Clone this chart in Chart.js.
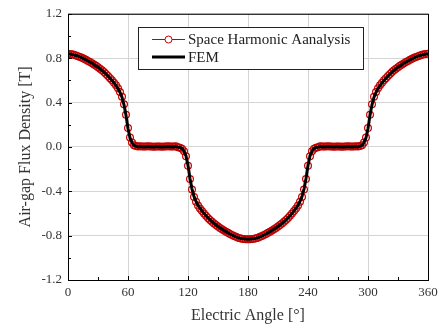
<!DOCTYPE html>
<html>
<head>
<meta charset="utf-8">
<script src="https://cdn.jsdelivr.net/npm/chart.js@4.4.1/dist/chart.umd.min.js"></script>
<style>
  html, body { margin: 0; padding: 0; background: #fff; }
  #wrap { position: relative; width: 443px; height: 325px; }
</style>
</head>
<body>
<div id="wrap"><canvas id="fluxChart"></canvas></div>
<script>
// Electric angle in degrees (sample positions)
const angles = [
  0,2,4,6,8,10,12,14,16,18,20,22,24,26,28,30,32,34,36,38,40,42,44,46,48,50,52,54,56,58,60,62,64,66,68,70,
  72,74,76,78,80,82,84,86,88,90,92,94,96,98,100,102,104,106,108,
  110,112,114,116,118,120,122,124,126,128,130,132,134,136,138,140,142,144,146,148,150,152,154,156,158,160,162,164,166,168,170,172,174,176,178,180,
  182,184,186,188,190,192,194,196,198,200,202,204,206,208,210,212,214,216,218,220,222,224,226,228,230,232,234,236,238,240,242,244,246,248,250,
  252,254,256,258,260,262,264,266,268,270,272,274,276,278,280,282,284,286,288,
  290,292,294,296,298,300,302,304,306,308,310,312,314,316,318,320,322,324,326,328,330,332,334,336,338,340,342,344,346,348,350,352,354,356,358,360
];

// Space harmonic analysis (markers)
const shaFlux = [
  0.840,0.838,0.835,0.830,0.825,0.818,0.811,0.803,0.795,0.785,0.775,0.765,0.754,0.743,0.731,0.718,0.705,0.690,0.675,0.658,0.640,0.620,0.600,0.578,0.555,0.528,0.495,0.452,0.385,0.290,0.170,0.085,0.040,0.016,0.007,0.004,
  0.005,0.004,0.003,0.004,0.005,0.004,0.003,0.002,0.003,0.004,0.003,0.002,0.003,0.004,0.005,0.004,0.003,0.004,0.005,
  -0.004,-0.007,-0.016,-0.040,-0.085,-0.170,-0.290,-0.385,-0.452,-0.495,-0.528,-0.555,-0.578,-0.600,-0.620,-0.640,-0.658,-0.675,-0.690,-0.705,-0.718,-0.731,-0.743,-0.754,-0.765,-0.775,-0.785,-0.795,-0.803,-0.811,-0.818,-0.823,-0.827,-0.830,-0.832,-0.833,
  -0.832,-0.830,-0.827,-0.823,-0.818,-0.811,-0.803,-0.795,-0.785,-0.775,-0.765,-0.754,-0.743,-0.731,-0.718,-0.705,-0.690,-0.675,-0.658,-0.640,-0.620,-0.600,-0.578,-0.555,-0.528,-0.495,-0.452,-0.385,-0.290,-0.170,-0.085,-0.040,-0.016,-0.007,-0.004,
  0.005,0.004,0.003,0.004,0.005,0.004,0.003,0.002,0.003,0.004,0.003,0.002,0.003,0.004,0.005,0.004,0.003,0.004,0.005,
  0.004,0.007,0.016,0.040,0.085,0.170,0.290,0.385,0.452,0.495,0.528,0.555,0.578,0.600,0.620,0.640,0.658,0.675,0.690,0.705,0.718,0.731,0.743,0.754,0.765,0.775,0.785,0.795,0.803,0.811,0.818,0.825,0.830,0.835,0.838,0.840
];

// FEM result (solid line)
const femFlux = [
  0.838,0.837,0.834,0.830,0.824,0.818,0.811,0.803,0.794,0.785,0.775,0.764,0.754,0.742,0.730,0.718,0.704,0.690,0.674,0.657,0.639,0.620,0.599,0.577,0.553,0.526,0.492,0.448,0.380,0.285,0.166,0.082,0.038,0.014,0.005,0.002,
  0.002,0.001,0.000,0.001,0.002,0.001,0.000,0.000,0.001,0.001,0.000,0.000,0.000,0.001,0.002,0.001,0.000,0.001,0.002,
  -0.002,-0.005,-0.014,-0.038,-0.082,-0.166,-0.285,-0.380,-0.448,-0.492,-0.526,-0.553,-0.577,-0.599,-0.620,-0.639,-0.657,-0.674,-0.690,-0.704,-0.718,-0.730,-0.742,-0.754,-0.764,-0.775,-0.785,-0.794,-0.803,-0.811,-0.818,-0.823,-0.827,-0.829,-0.831,-0.832,
  -0.831,-0.829,-0.827,-0.823,-0.818,-0.811,-0.803,-0.794,-0.785,-0.775,-0.764,-0.754,-0.742,-0.730,-0.718,-0.704,-0.690,-0.674,-0.657,-0.639,-0.620,-0.599,-0.577,-0.553,-0.526,-0.492,-0.448,-0.380,-0.285,-0.166,-0.082,-0.038,-0.014,-0.005,-0.002,
  0.002,0.001,0.000,0.001,0.002,0.001,0.000,0.000,0.001,0.001,0.000,0.000,0.000,0.001,0.002,0.001,0.000,0.001,0.002,
  0.002,0.005,0.014,0.038,0.082,0.166,0.285,0.380,0.448,0.492,0.526,0.553,0.577,0.599,0.620,0.639,0.657,0.674,0.690,0.704,0.718,0.730,0.742,0.754,0.764,0.775,0.785,0.794,0.803,0.811,0.818,0.824,0.830,0.834,0.837,0.838
];

const xTicks = [0, 60, 120, 180, 240, 300, 360];
const yTicks = [-1.2, -0.8, -0.4, 0.0, 0.4, 0.8, 1.2];
const legendLabels = ['Space Harmonic Aanalysis', 'FEM'];

const SERIF = '"Liberation Serif", "Times New Roman", serif';
const RED = '#c40000';

const toPoints = (ys) => angles.map((a, i) => ({ x: a, y: ys[i] }));

// frame, inner tick marks and the boxed legend
const framePlugin = {
    id: 'frame',
    afterDraw(chart) {
        const { ctx, chartArea: a, scales } = chart;
        ctx.save();
        ctx.strokeStyle = '#000';
        ctx.lineWidth = 1;
        ctx.strokeRect(a.left + 0.5, a.top + 0.5, a.right - a.left, a.bottom - a.top);

        // minor/major ticks pointing inward
        ctx.beginPath();
        for (let v = 0; v <= 360; v += 30) {
            const x = Math.round(scales.x.getPixelForValue(v)) + 0.5;
            const len = v % 60 === 0 ? 4 : 3;
            ctx.moveTo(x, a.bottom);
            ctx.lineTo(x, a.bottom - len);
        }
        for (let k = -6; k <= 6; k++) {
            const y = Math.round(scales.y.getPixelForValue(k * 0.2)) + 0.5;
            const len = k % 2 === 0 ? 4 : 3;
            ctx.moveTo(a.left, y);
            ctx.lineTo(a.left + len, y);
        }
        ctx.stroke();

        // legend
        const bx = 138, by = 27, bw = 225, bh = 42;
        ctx.fillStyle = '#fff';
        ctx.fillRect(bx, by, bw, bh);
        ctx.strokeStyle = '#222';
        ctx.strokeRect(bx + 0.5, by + 0.5, bw, bh);

        const y1 = 39, y2 = 57;
        ctx.strokeStyle = RED;
        ctx.lineWidth = 1;
        ctx.beginPath();
        ctx.moveTo(152, y1 + 0.5);
        ctx.lineTo(185, y1 + 0.5);
        ctx.stroke();
        ctx.fillStyle = '#fff';
        ctx.beginPath();
        ctx.arc(168.5, y1 + 0.5, 3.5, 0, Math.PI * 2);
        ctx.fill();
        ctx.stroke();

        ctx.strokeStyle = '#000';
        ctx.lineWidth = 3;
        ctx.beginPath();
        ctx.moveTo(152, y2);
        ctx.lineTo(185, y2);
        ctx.stroke();

        ctx.fillStyle = '#222';
        ctx.font = '15px ' + SERIF;
        ctx.textBaseline = 'middle';
        ctx.textAlign = 'left';
        ctx.fillText(legendLabels[0], 188, y1 + 1);
        ctx.fillText(legendLabels[1], 188, y2 + 1);
        ctx.restore();
    }
};

new Chart(document.getElementById('fluxChart'), {
    type: 'scatter',
    data: {
        datasets: [
            {
                label: legendLabels[1],
                data: toPoints(femFlux),
                showLine: true,
                borderColor: '#000',
                borderWidth: 3,
                pointRadius: 0,
                tension: 0,
                order: 0
            },
            {
                label: legendLabels[0],
                data: toPoints(shaFlux),
                showLine: false,
                pointStyle: 'circle',
                pointRadius: 3.4,
                borderColor: RED,
                backgroundColor: 'rgba(0,0,0,0)',
                borderWidth: 1.2,
                order: 1
            }
        ]
    },
    options: {
        responsive: true,
        maintainAspectRatio: false,
        animation: false,
        layout: { padding: { top: 13, right: 15, left: 0, bottom: 0 } },
        plugins: {
            legend: { display: false },
            tooltip: { enabled: false }
        },
        scales: {
            x: {
                type: 'linear',
                min: 0,
                max: 360,
                afterFit: (s) => { s.height = 45; },
                afterBuildTicks: (s) => { s.ticks = xTicks.map(v => ({ value: v })); },
                grid: { color: '#d4d4d4', drawTicks: false },
                border: { display: false },
                ticks: {
                    padding: 5,
                    color: '#333',
                    font: { family: SERIF, size: 13 },
                    maxRotation: 0
                },
                title: {
                    display: true,
                    text: 'Electric Angle [°]',
                    color: '#333',
                    font: { family: SERIF, size: 16 },
                    padding: { top: 0, bottom: 0 }
                }
            },
            y: {
                type: 'linear',
                min: -1.2,
                max: 1.2,
                afterFit: (s) => { s.width = 68; },
                afterBuildTicks: (s) => { s.ticks = yTicks.map(v => ({ value: v })); },
                grid: { color: '#d4d4d4', drawTicks: false },
                border: { display: false },
                ticks: {
                    padding: 6,
                    color: '#333',
                    font: { family: SERIF, size: 13 },
                    callback: (v) => v.toFixed(1)
                },
                title: {
                    display: true,
                    text: 'Air-gap Flux Density [T]',
                    color: '#333',
                    font: { family: SERIF, size: 16 },
                    padding: { top: 16, bottom: 0 }
                }
            }
        }
    },
    plugins: [framePlugin]
});
</script>
</body>
</html>
